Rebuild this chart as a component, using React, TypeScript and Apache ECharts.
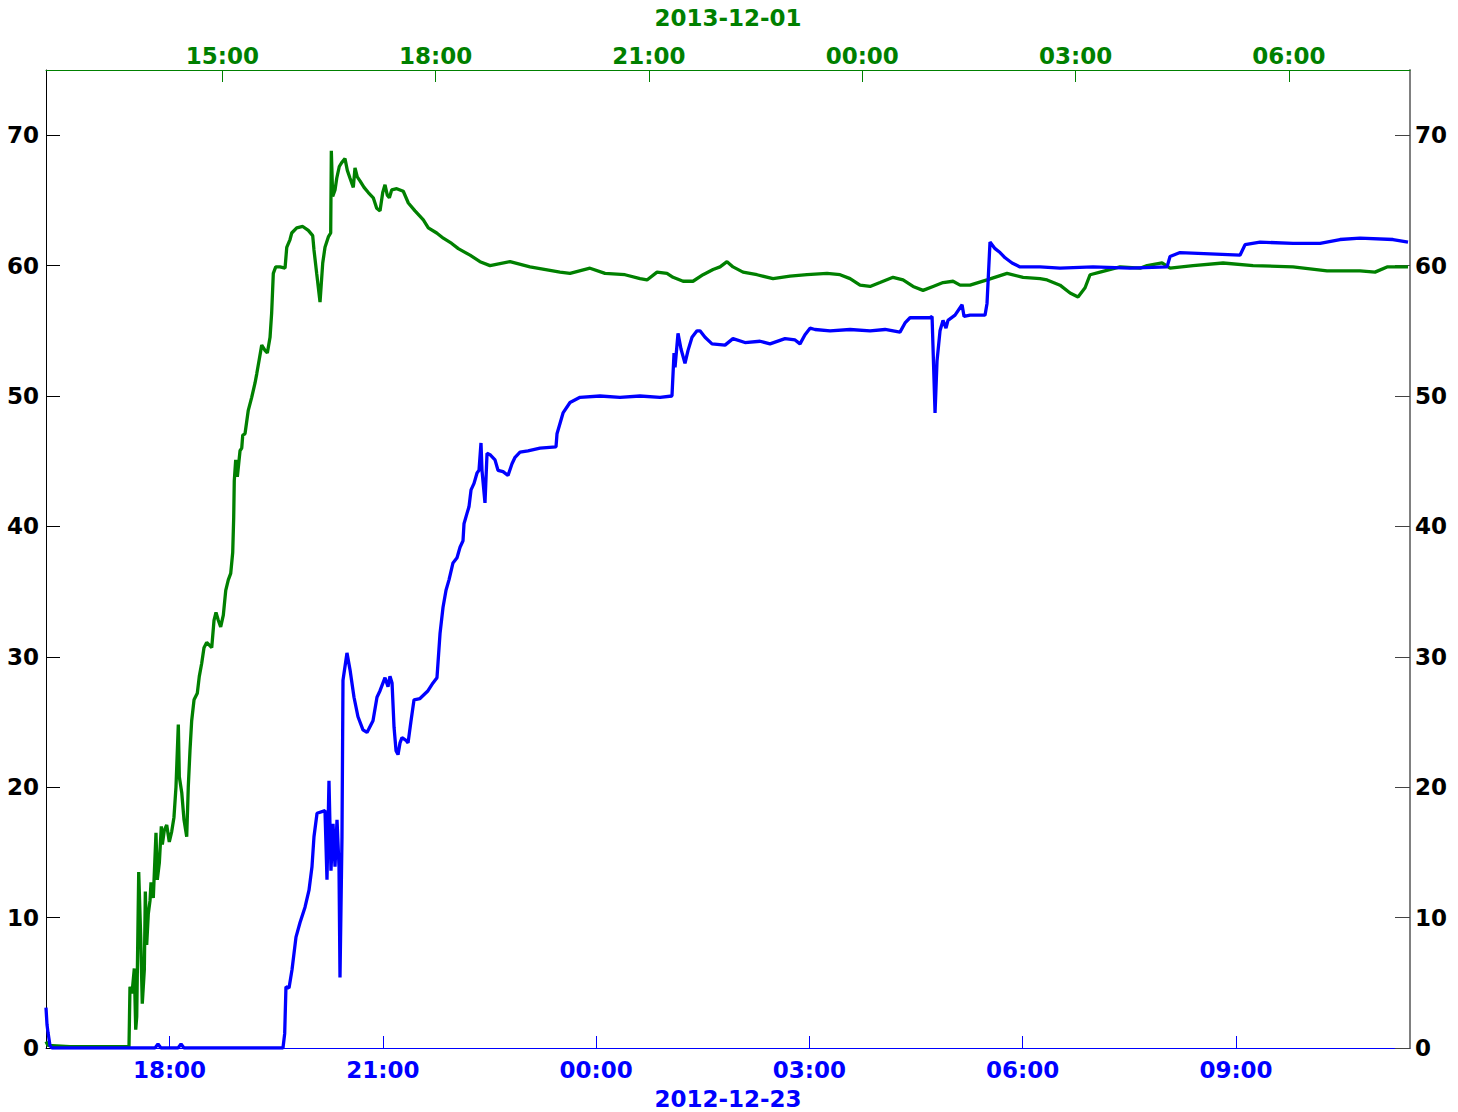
import React, { useEffect, useRef } from "react";
import * as echarts from "echarts";

// Run that started 2012-12-22 afternoon (bottom axis, hours from 2012-12-22 00:00)
const blueHours = [
  16.263, 16.277, 16.291, 16.319, 16.347, 17.796, 17.838, 17.88, 18.12, 18.162, 18.204, 19.596,
  19.62, 19.638, 19.681, 19.723, 19.779, 19.835, 19.906, 19.962, 20.004, 20.032, 20.075, 20.187,
  20.215, 20.243, 20.271, 20.3, 20.328, 20.356, 20.384, 20.398, 20.426, 20.44, 20.496, 20.539,
  20.595, 20.651, 20.721, 20.778, 20.862, 20.918, 20.961, 21.031, 21.073, 21.101, 21.13, 21.158,
  21.186, 21.214, 21.242, 21.27, 21.326, 21.355, 21.397, 21.439, 21.523, 21.636, 21.706, 21.762,
  21.805, 21.847, 21.889, 21.931, 21.987, 22.044, 22.086, 22.128, 22.142, 22.184, 22.212, 22.241,
  22.283, 22.325, 22.353, 22.381, 22.395, 22.437, 22.466, 22.508, 22.578, 22.62, 22.691, 22.761,
  22.817, 22.86, 22.93, 23.042, 23.211, 23.436, 23.45, 23.535, 23.633, 23.774, 24.055, 24.336,
  24.617, 24.899, 25.067, 25.096, 25.11, 25.152, 25.194, 25.25, 25.293, 25.349, 25.419, 25.461,
  25.532, 25.63, 25.813, 25.925, 26.094, 26.305, 26.446, 26.657, 26.798, 26.868, 26.938, 27.009,
  27.079, 27.29, 27.572, 27.853, 28.064, 28.274, 28.345, 28.415, 28.696, 28.725, 28.767, 28.795,
  28.837, 28.879, 28.921, 28.949, 29.048, 29.147, 29.175, 29.259, 29.47, 29.498, 29.54, 29.611,
  29.681, 29.752, 29.85, 29.962, 30.244, 30.525, 30.989, 31.509, 32.03, 32.072, 32.213, 32.635,
  33.056, 33.127, 33.338, 33.802, 34.182, 34.463, 34.744, 35.208, 35.419,
];
const blueValues = [
  3.1, 1.8, 1.2, 0.2, 0, 0, 0.3, 0, 0, 0.3, 0, 0,
  1.1, 4.7, 4.6, 6.0, 8.5, 9.6, 10.8, 12.1, 13.9, 16.2, 18.0, 18.2,
  12.9, 20.5, 13.6, 17.2, 13.9, 17.5, 13.9, 5.4, 16.2, 28.2, 30.3, 29.0,
  26.9, 25.4, 24.4, 24.2, 25.1, 26.9, 27.4, 28.4, 27.7, 28.5, 28.0, 24.6,
  22.8, 22.5, 23.4, 23.8, 23.6, 23.4, 25.1, 26.7, 26.8, 27.4, 28.0, 28.4,
  31.8, 33.8, 35.1, 35.9, 37.2, 37.6, 38.4, 38.9, 40.2, 41.0, 41.5, 42.8,
  43.3, 44.1, 44.3, 46.4, 44.3, 41.8, 45.6, 45.5, 45.1, 44.3, 44.2, 43.9,
  44.8, 45.3, 45.7, 45.8, 46.0, 46.1, 47.1, 48.7, 49.5, 49.9, 50.0, 49.9,
  50.0, 49.9, 50.0, 53.3, 52.2, 54.8, 53.6, 52.5, 53.5, 54.5, 55.0, 55.0,
  54.5, 54.0, 53.9, 54.4, 54.1, 54.2, 54.0, 54.4, 54.3, 54.0, 54.7, 55.2,
  55.1, 55.0, 55.1, 55.0, 55.1, 54.9, 55.6, 56.0, 56.0, 56.1, 48.7, 52.7,
  55.0, 55.8, 55.2, 55.8, 56.2, 57.0, 56.1, 56.2, 56.2, 57.1, 61.8, 61.3,
  61.0, 60.6, 60.2, 59.9, 59.9, 59.8, 59.9, 59.8, 59.9, 60.7, 61.0, 60.9,
  60.8, 61.6, 61.8, 61.7, 61.7, 62.0, 62.1, 62.0, 61.8,
];

// Run that started 2013-11-30 midday (top axis, hours from 2013-11-30 00:00)
const greenHours = [
  12.52, 12.548, 12.858, 13.28, 13.673, 13.687, 13.701, 13.73, 13.762, 13.782, 13.796, 13.824,
  13.852, 13.874, 13.903, 13.917, 13.936, 13.959, 13.983, 13.997, 14.029, 14.067, 14.085, 14.114,
  14.142, 14.156, 14.184, 14.218, 14.254, 14.288, 14.32, 14.348, 14.381, 14.395, 14.429, 14.461,
  14.499, 14.521, 14.545, 14.569, 14.602, 14.648, 14.676, 14.71, 14.742, 14.78, 14.851, 14.883,
  14.911, 14.943, 14.977, 15.014, 15.048, 15.084, 15.118, 15.146, 15.16, 15.168, 15.188, 15.211,
  15.249, 15.273, 15.287, 15.319, 15.365, 15.413, 15.46, 15.484, 15.516, 15.554, 15.6, 15.633,
  15.671, 15.694, 15.717, 15.751, 15.811, 15.882, 15.906, 15.952, 15.976, 16.046, 16.131, 16.209,
  16.271, 16.289, 16.327, 16.374, 16.412, 16.444, 16.491, 16.524, 16.533, 16.552, 16.585, 16.609,
  16.645, 16.679, 16.725, 16.758, 16.796, 16.842, 16.866, 16.898, 16.936, 16.993, 17.053, 17.123,
  17.171, 17.218, 17.256, 17.288, 17.32, 17.349, 17.382, 17.453, 17.545, 17.616, 17.71, 17.827,
  17.897, 18.015, 18.108, 18.226, 18.319, 18.484, 18.624, 18.765, 19.046, 19.327, 19.749, 19.89,
  20.171, 20.382, 20.663, 20.875, 20.973, 21.114, 21.254, 21.339, 21.48, 21.62, 21.761, 21.902,
  22.0, 22.098, 22.183, 22.323, 22.52, 22.745, 22.984, 23.223, 23.505, 23.688, 23.829, 23.969,
  24.11, 24.25, 24.433, 24.574, 24.715, 24.855, 24.996, 25.137, 25.277, 25.376, 25.516, 25.755,
  26.037, 26.262, 26.501, 26.6, 26.782, 26.923, 27.035, 27.134, 27.204, 27.345, 27.626, 27.907,
  28.006, 28.217, 28.329, 28.653, 29.075, 29.497, 30.059, 30.537, 31.001, 31.212, 31.381, 31.676,
];
const greenValues = [
  0.5, 0.2, 0.1, 0.1, 0.1, 0.0, 4.7, 4.2, 6.1, 1.4, 2.4, 13.5,
  8.5, 3.4, 6.0, 12.0, 7.9, 10.3, 11.3, 12.7, 11.5, 16.5, 12.9, 14.2,
  17.0, 15.6, 16.7, 17.1, 15.8, 16.6, 17.7, 20.0, 24.8, 20.8, 19.6, 17.5,
  16.2, 20.0, 22.8, 25.1, 26.7, 27.2, 28.5, 29.5, 30.7, 31.1, 30.7, 32.8,
  33.4, 32.8, 32.3, 33.2, 35.1, 35.9, 36.4, 38.0, 40.7, 43.5, 45.1, 43.8,
  45.8, 46.0, 47.0, 47.1, 48.9, 49.9, 51.0, 51.7, 52.7, 53.9, 53.5, 53.3,
  54.5, 56.4, 59.4, 59.9, 59.9, 59.8, 61.4, 62.0, 62.5, 62.9, 63.0, 62.7,
  62.3, 61.2, 59.4, 57.2, 60.2, 61.4, 62.2, 62.5, 68.8, 65.3, 65.8, 66.7,
  67.6, 67.9, 68.2, 67.3, 66.7, 66.0, 67.5, 66.8, 66.5, 66.0, 65.6, 65.2,
  64.4, 64.2, 65.6, 66.2, 65.4, 65.2, 65.8, 65.9, 65.7, 64.8, 64.2, 63.5,
  62.9, 62.5, 62.1, 61.7, 61.3, 60.8, 60.3, 60.0, 60.3, 59.9, 59.5, 59.4,
  59.8, 59.4, 59.3, 59.0, 58.9, 59.5, 59.4, 59.1, 58.8, 58.8, 59.3, 59.7,
  59.9, 60.3, 59.9, 59.5, 59.3, 59.0, 59.2, 59.3, 59.4, 59.3, 59.0, 58.5,
  58.4, 58.7, 59.1, 58.9, 58.4, 58.1, 58.4, 58.7, 58.8, 58.5, 58.5, 58.9,
  59.4, 59.1, 59.0, 58.9, 58.5, 57.9, 57.6, 58.3, 59.3, 59.5, 59.9, 59.8,
  60.0, 60.2, 59.8, 60.0, 60.2, 60.0, 59.9, 59.6, 59.6, 59.5, 59.9, 59.9,
];

const yTicks = [0, 10, 20, 30, 40, 50, 60, 70];
const bottomTicks = [18, 21, 24, 27, 30, 33];
const topTicks = [15, 18, 21, 24, 27, 30];
const bottomRange = [16.263, 35.447];
const topRange = [12.52, 31.704];
const bottomDate = "2012-12-23";
const topDate = "2013-12-01";

const BLUE = "#0000ff";
const GREEN = "#008000";
const FONT = "DejaVu Sans";

const hourLabel = (v: number) =>
  String(Math.round(v) % 24).padStart(2, "0") + ":00";

const zip = (xs: number[], ys: number[]) => xs.map((x, i) => [x, ys[i]]);

export default function App() {
  const ref = useRef<HTMLDivElement>(null);

  useEffect(() => {
    if (!ref.current) return;
    const chart = echarts.init(ref.current, null, { renderer: "svg" });
    const labelStyle = {
      fontFamily: FONT,
      fontWeight: "bold" as const,
      fontSize: 23,
    };
    chart.setOption({
      animation: false,
      backgroundColor: "#ffffff",
      grid: {
        left: 46,
        right: 48,
        top: 70,
        bottom: 64,
        containLabel: false,
        outerBoundsMode: "none",
      },
      xAxis: [
        {
          type: "value",
          position: "bottom",
          min: bottomRange[0],
          max: bottomRange[1],
          name: bottomDate,
          nameLocation: "middle",
          nameGap: 39,
          nameTextStyle: { ...labelStyle, color: BLUE },
          splitLine: { show: false },
          axisLine: { show: true, onZero: false, lineStyle: { color: BLUE, width: 1 } },
          axisTick: {
            show: true,
            inside: true,
            length: 12,
            customValues: bottomTicks,
            lineStyle: { color: BLUE, width: 1 },
          },
          axisLabel: {
            ...labelStyle,
            color: BLUE,
            margin: 10,
            customValues: bottomTicks,
            formatter: hourLabel,
          },
        },
        {
          type: "value",
          position: "top",
          min: topRange[0],
          max: topRange[1],
          name: topDate,
          nameLocation: "middle",
          nameGap: 41,
          nameTextStyle: { ...labelStyle, color: GREEN },
          splitLine: { show: false },
          axisLine: { show: true, onZero: false, lineStyle: { color: GREEN, width: 1 } },
          axisTick: {
            show: true,
            inside: true,
            length: 12,
            customValues: topTicks,
            lineStyle: { color: GREEN, width: 1 },
          },
          axisLabel: {
            ...labelStyle,
            color: GREEN,
            margin: 3,
            customValues: topTicks,
            formatter: hourLabel,
          },
        },
      ],
      yAxis: [
        {
          type: "value",
          position: "left",
          min: 0,
          max: 75,
          splitLine: { show: false },
          axisLine: { show: true, onZero: false, lineStyle: { color: "#000000", width: 1 } },
          axisTick: {
            show: true,
            inside: true,
            length: 14,
            customValues: yTicks,
            lineStyle: { color: "#000000", width: 1 },
          },
          axisLabel: {
            ...labelStyle,
            color: "#000000",
            margin: 7,
            customValues: yTicks,
          },
        },
        {
          type: "value",
          position: "right",
          min: 0,
          max: 75,
          splitLine: { show: false },
          axisLine: { show: true, onZero: false, lineStyle: { color: "#808080", width: 2 } },
          axisTick: {
            show: true,
            inside: true,
            length: 15,
            customValues: yTicks,
            lineStyle: { color: "#444444", width: 1 },
          },
          axisLabel: {
            ...labelStyle,
            color: "#000000",
            margin: 5,
            customValues: yTicks,
          },
        },
      ],
      series: [
        {
          type: "line",
          xAxisIndex: 0,
          yAxisIndex: 0,
          data: zip(blueHours, blueValues),
          showSymbol: false,
          lineStyle: { color: BLUE, width: 3.3 },
          itemStyle: { color: BLUE },
          z: 3,
        },
        {
          type: "line",
          xAxisIndex: 1,
          yAxisIndex: 0,
          data: zip(greenHours, greenValues),
          showSymbol: false,
          lineStyle: { color: GREEN, width: 3.3 },
          itemStyle: { color: GREEN },
          z: 2,
        },
      ],
    });
    return () => chart.dispose();
  }, []);

  return (
    <div
      ref={ref}
      style={{ position: "fixed", left: 0, top: 0, width: 1458, height: 1112 }}
    />
  );
}
